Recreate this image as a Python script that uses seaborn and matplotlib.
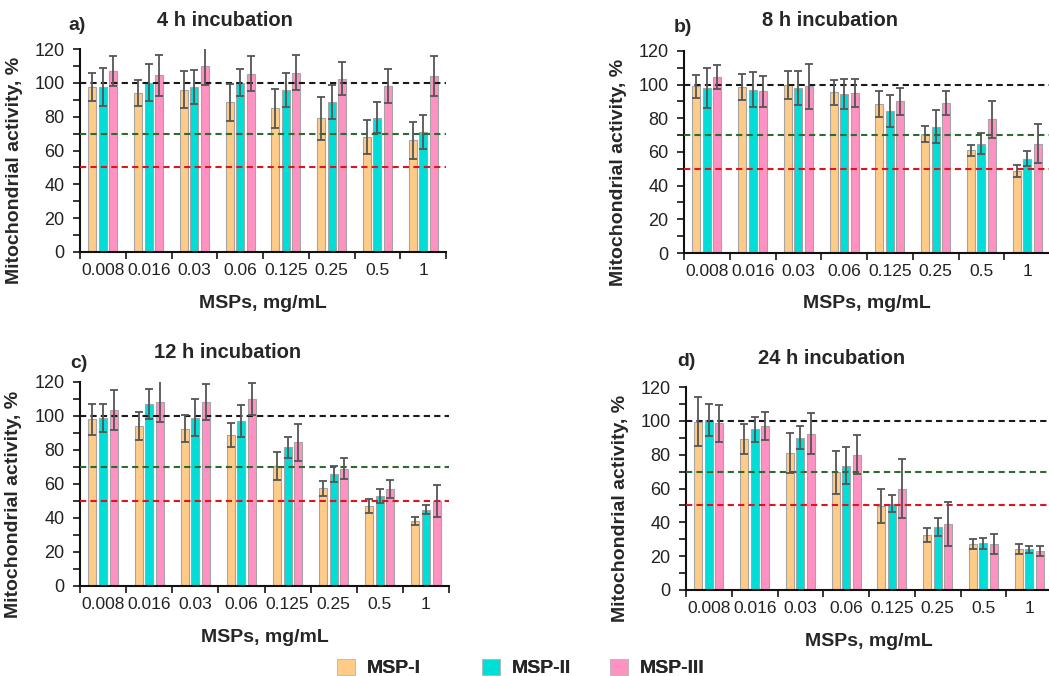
import matplotlib

matplotlib.use("Agg")
import matplotlib.pyplot as plt
import matplotlib.ticker as mticker
import pandas as pd
import seaborn as sns
from matplotlib.patches import Patch

W, H = 1049, 676

CONCENTRATIONS = ["0.008", "0.016", "0.03", "0.06", "0.125", "0.25", "0.5", "1"]
SAMPLES = ["MSP-I", "MSP-II", "MSP-III"]
COLORS = ["#FFCC88", "#00DED8", "#FF92C2"]
THRESHOLDS = [100, 70, 50]
THRESHOLD_COLORS = ["#1a1a1a", "#2E6B2E", "#E0141E"]

# 4 h incubation
H4_MSP1 = [97.5, 94, 96, 88.5, 85, 79, 68, 66]
H4_MSP2 = [97.5, 100, 97.5, 100, 96, 88.5, 79.5, 71]
H4_MSP3 = [107, 104.5, 110, 105.5, 106, 102.5, 98, 104]
H4_ERR1 = [8.5, 7.5, 11, 11, 11.5, 12.5, 10, 11]
H4_ERR2 = [11, 11, 10, 8, 10, 10, 9.3, 10]
H4_ERR3 = [9, 12, 11, 10.5, 10.5, 9.7, 10, 12]

# 8 h incubation
H8_MSP1 = [99, 98.5, 100, 95.5, 88.5, 70.5, 61, 48.5]
H8_MSP2 = [98, 97, 98, 94.5, 84.5, 75, 65, 56]
H8_MSP3 = [104.5, 96, 99, 95, 90, 89, 79.5, 65]
H8_ERR1 = [7, 7.7, 8.3, 7.3, 7.8, 4.7, 3.2, 3.5]
H8_ERR2 = [12, 10.4, 10, 9, 9.6, 9.7, 6, 4.6]
H8_ERR3 = [7, 9.3, 13.3, 8.1, 8.3, 7.2, 11, 11.5]

# 12 h incubation
H12_MSP1 = [98, 94, 92.5, 89, 70.5, 57.5, 47, 38]
H12_MSP2 = [99, 107, 99, 97, 81.5, 66, 53, 45]
H12_MSP3 = [103.5, 108.5, 108.5, 110, 84.5, 69, 57, 50]
H12_ERR1 = [9, 8.3, 8, 7, 8.3, 4.5, 4, 2.3]
H12_ERR2 = [8.2, 8.8, 10.8, 9.6, 6.4, 4.6, 4.3, 2.8]
H12_ERR3 = [12, 12, 10.6, 9.2, 10.8, 6.3, 5.1, 9.6]

# 24 h incubation
H24_MSP1 = [99.5, 89, 81, 69.5, 49.5, 32.5, 27, 24]
H24_MSP2 = [100.5, 95, 90, 73.5, 51, 37, 27.5, 24]
H24_MSP3 = [98.5, 97, 92.5, 80, 60, 39, 27, 23]
H24_ERR1 = [14.6, 8.9, 12, 12.5, 10, 4, 3, 3]
H24_ERR2 = [9.5, 7.3, 6.8, 11, 5, 5.3, 3.3, 2]
H24_ERR3 = [11, 8.5, 12.2, 11.5, 17.6, 12.8, 6, 2.8]

PANELS = [
    ("a)", "4 h incubation", [H4_MSP1, H4_MSP2, H4_MSP3], [H4_ERR1, H4_ERR2, H4_ERR3]),
    ("b)", "8 h incubation", [H8_MSP1, H8_MSP2, H8_MSP3], [H8_ERR1, H8_ERR2, H8_ERR3]),
    ("c)", "12 h incubation", [H12_MSP1, H12_MSP2, H12_MSP3], [H12_ERR1, H12_ERR2, H12_ERR3]),
    ("d)", "24 h incubation", [H24_MSP1, H24_MSP2, H24_MSP3], [H24_ERR1, H24_ERR2, H24_ERR3]),
]

# axes boxes in pixels: left, top, right, bottom
AX_BOXES = [(80, 49, 446, 252), (684, 51, 1050, 253), (80, 382, 449, 586), (686, 387, 1052, 590)]
TITLE_POS = [(225, 21), (830, 21), (228, 353), (832, 359)]
LETTER_POS = [(77, 25), (683, 27), (79, 363), (686, 362)]


def to_frame(series: list[list[float]]) -> pd.DataFrame:
    rows = []
    for sample, values in zip(SAMPLES, series):
        for conc, v in zip(CONCENTRATIONS, values):
            rows.append({"conc": conc, "sample": sample, "value": v})
    return pd.DataFrame(rows)


def draw_panel(fig, box, letter, title, series, errors, title_pos, letter_pos):
    left, top, right, bottom = box
    ax = fig.add_axes([left / W, 1 - bottom / H, (right - left) / W, (bottom - top) / H])
    df = to_frame(series)
    sns.barplot(
        data=df, x="conc", y="value", hue="sample", order=CONCENTRATIONS, hue_order=SAMPLES,
        palette=COLORS, saturation=1, width=0.69, gap=0.24, edgecolor="#a5a5a5", linewidth=0.8,
        errorbar=None, legend=False, ax=ax, zorder=2,
    )
    for container, errs in zip(ax.containers, errors):
        xs = [b.get_x() + b.get_width() / 2 for b in container]
        ys = [b.get_height() for b in container]
        ax.errorbar(xs, ys, yerr=errs, fmt="none", ecolor="#555555", elinewidth=1.3,
                    capsize=3, capthick=1.3, zorder=4)
    for val, col in zip(THRESHOLDS, THRESHOLD_COLORS):
        ax.axhline(val, color=col, lw=1.5, ls=(0, (3, 2)), zorder=3)

    ax.set_xlim(-0.5, 7.5)
    ax.set_ylim(0, 120)
    ax.set_xticks(range(len(CONCENTRATIONS)))
    ax.set_xticklabels(CONCENTRATIONS)
    ax.xaxis.set_minor_locator(mticker.FixedLocator([i - 0.5 for i in range(len(CONCENTRATIONS) + 1)]))
    ax.set_yticks(range(0, 121, 20))
    ax.yaxis.set_minor_locator(mticker.MultipleLocator(10))
    ax.tick_params(axis="x", which="major", length=0, pad=8, labelsize=12.5, labelcolor="#222222")
    ax.tick_params(axis="x", which="minor", length=5, width=1.3, direction="out")
    ax.tick_params(axis="y", which="both", length=5, width=1.3, direction="out", pad=6,
                   labelsize=13, labelcolor="#222222")
    for side in ["left", "bottom"]:
        ax.spines[side].set_linewidth(1.5)
        ax.spines[side].set_color("#111111")
    sns.despine(ax=ax)
    ax.grid(False)

    ax.set_xlabel("MSPs, mg/mL", fontsize=14, fontweight="bold")
    ax.set_ylabel("Mitochondrial activity, %", fontsize=14, fontweight="bold")
    ax.xaxis.set_label_coords(0.5, -0.21)
    ax.yaxis.set_label_coords(-0.157, 0.40)

    fig.text(title_pos[0] / W, 1 - title_pos[1] / H, title, ha="center", va="center",
             fontsize=14.5, fontweight="bold")
    fig.text(letter_pos[0] / W, 1 - letter_pos[1] / H, letter, ha="center", va="center",
             fontsize=14, fontweight="bold")
    return ax


def main() -> None:
    sns.set_theme(style="ticks")
    plt.rcParams["font.family"] = ["Liberation Sans", "DejaVu Sans"]

    fig = plt.figure(figsize=(W / 100, H / 100), dpi=100)
    for box, (letter, title, series, errors), tpos, lpos in zip(AX_BOXES, PANELS, TITLE_POS, LETTER_POS):
        draw_panel(fig, box, letter, title, series, errors, tpos, lpos)

    legend_x = [337, 482, 610]
    for name, col, lx in zip(SAMPLES, COLORS, legend_x):
        handle = Patch(facecolor=col, edgecolor="#bbbbbb", linewidth=0.6)
        leg = fig.legend(
            handles=[handle], labels=[name], loc="center left",
            bbox_to_anchor=(lx / W, 1 - 668 / H), frameon=False,
            handlelength=0.93, handleheight=0.9, handletextpad=0.6, borderpad=0,
            borderaxespad=0, prop={"size": 14, "weight": "bold"},
        )
        fig.add_artist(leg)

    fig.savefig("out.png", dpi=100)
    plt.close(fig)


if __name__ == "__main__":
    main()
